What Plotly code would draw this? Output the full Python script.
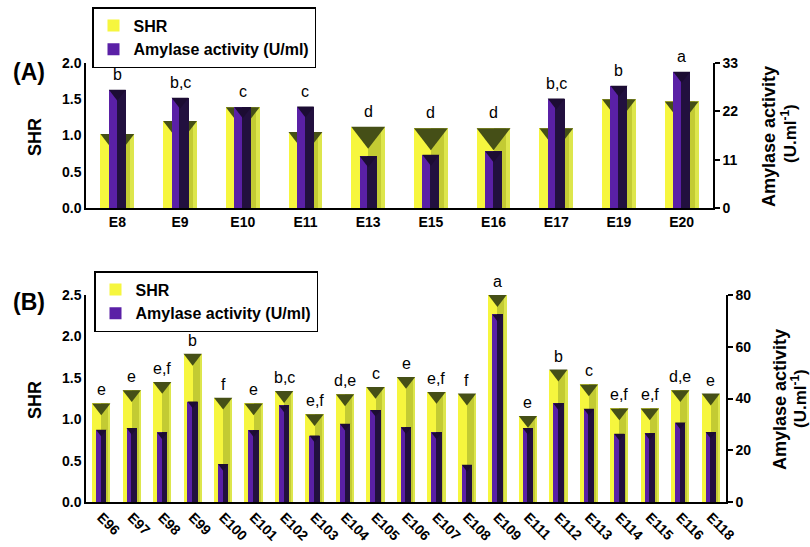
import plotly.graph_objects as go

# ---------------- data ----------------
cats_a = ["E8", "E9", "E10", "E11", "E13", "E15", "E16", "E17", "E19", "E20"]
shr_a = [1.02, 1.20, 1.39, 1.05, 1.12, 1.10, 1.10, 1.10, 1.50, 1.47]
amy_a = [26.9, 25.1, 22.9, 23.1, 11.8, 12.1, 12.9, 24.9, 27.8, 31.0]
letters_a = ["b", "b,c", "c", "c", "d", "d", "d", "b,c", "b", "a"]

cats_b = ["E96", "E97", "E98", "E99", "E100", "E101", "E102", "E103", "E104", "E105", "E106",
          "E107", "E108", "E109", "E111", "E112", "E113", "E114", "E115", "E116", "E118"]
shr_b = [1.19, 1.35, 1.45, 1.79, 1.26, 1.19, 1.34, 1.06, 1.30, 1.39, 1.51,
         1.33, 1.31, 2.50, 1.04, 1.60, 1.42, 1.13, 1.13, 1.35, 1.31]
amy_b = [27.9, 28.6, 26.9, 38.8, 14.7, 27.7, 37.3, 25.7, 30.2, 35.6, 28.9,
         26.9, 14.4, 72.5, 28.6, 38.2, 36.0, 26.4, 26.6, 30.7, 27.1]
letters_b = ["e", "e", "e,f", "b", "f", "e", "b,c", "e,f", "d,e", "c", "e",
             "e,f", "f", "a", "e", "b", "c", "e,f", "e,f", "d,e", "e"]

# ---------------- layout constants ----------------
W, H = 810, 547
FONT = "Arial, Liberation Sans, sans-serif"
dom_xa = [86 / W, 713 / W]
dom_xb = [86 / W, 726 / W]
dom_ya = [1 - 208 / H, 1 - 63 / H]
dom_yb = [1 - 502 / H, 1 - 295 / H]
rng_ya, rng_y2a = [0, 2.0], [0, 33]
rng_yb, rng_y2b = [0, 2.5], [0, 80]

YEL = "#F6F63E"
YEL_SH = "#C3CB33"
YEL_EDGE = "#DDE64C"
YEL_TRI = "#454F17"
PUR = "#5A20A6"
PUR_SH = "#22103F"
PUR_TRI = "#1C0C33"

fig = go.Figure()


def add_panel(cats, shr, amy, xa, ya, ya2, wy, wp, dom_x, dom_y, rng_y, rng_y2, legend, show):
    n = len(cats)
    xpx = (dom_x[1] - dom_x[0]) * W / n
    ppu_y = (dom_y[1] - dom_y[0]) * H / (rng_y[1] - rng_y[0])
    ppu_y2 = (dom_y[1] - dom_y[0]) * H / (rng_y2[1] - rng_y2[0])
    # SHR bars (left axis)
    fig.add_trace(go.Bar(x=cats, y=shr, width=wy, offset=-wy / 2, marker=dict(color=YEL, line=dict(width=0)),
                         name="SHR", xaxis=xa, yaxis=ya, legend=legend, showlegend=show))
    fig.add_trace(go.Bar(x=cats, y=shr, width=wy * 0.48, offset=0.0, marker=dict(color=YEL_SH, line=dict(width=0)),
                         xaxis=xa, yaxis=ya, showlegend=False, hoverinfo="skip"))
    fig.add_trace(go.Bar(x=cats, y=shr, width=wy * 0.12, offset=wy * 0.38, marker=dict(color=YEL_EDGE, line=dict(width=0)),
                         xaxis=xa, yaxis=ya, showlegend=False, hoverinfo="skip"))
    size_y = 2 * (wy * xpx) / 2.309
    fig.add_trace(go.Scatter(x=cats, y=[v - (size_y / 4) / ppu_y for v in shr], mode="markers",
                             marker=dict(symbol="triangle-down", size=size_y, color=YEL_TRI, line=dict(width=0)),
                             xaxis=xa, yaxis=ya, showlegend=False, hoverinfo="skip", cliponaxis=False))
    # Amylase bars (right axis)
    fig.add_trace(go.Bar(x=cats, y=amy, width=wp, offset=-wp / 2, marker=dict(color=PUR, line=dict(width=0)),
                         name="Amylase activity (U/ml)", xaxis=xa, yaxis=ya2, legend=legend, showlegend=show))
    fig.add_trace(go.Bar(x=cats, y=amy, width=wp * 0.55, offset=-wp / 2 + wp * 0.45,
                         marker=dict(color=PUR_SH, line=dict(width=0)),
                         xaxis=xa, yaxis=ya2, showlegend=False, hoverinfo="skip"))
    size_p = 2 * (wp * xpx) / 2.309
    fig.add_trace(go.Scatter(x=cats, y=[v - (size_p / 4) / ppu_y2 for v in amy], mode="markers",
                             marker=dict(symbol="triangle-down", size=size_p, color=PUR_TRI, line=dict(width=0)),
                             xaxis=xa, yaxis=ya2, showlegend=False, hoverinfo="skip", cliponaxis=False))


add_panel(cats_a, shr_a, amy_a, "x", "y", "y2", 0.54, 0.27, dom_xa, dom_ya, rng_ya, rng_y2a, "legend", True)
add_panel(cats_b, shr_b, amy_b, "x2", "y3", "y4", 0.60, 0.34, dom_xb, dom_yb, rng_yb, rng_y2b, "legend2", True)

# significance letters
annots = []
for c, s, a, t in zip(cats_a, shr_a, amy_a, letters_a):
    top = max(s / rng_ya[1], a / rng_y2a[1])
    annots.append(dict(x=c, y=top, xref="x", yref="y domain", text=t, showarrow=False,
                       yanchor="bottom", yshift=5, font=dict(family=FONT, size=16, color="black")))
for c, s, a, t in zip(cats_b, shr_b, amy_b, letters_b):
    top = max(s / rng_yb[1], a / rng_y2b[1])
    annots.append(dict(x=c, y=top, xref="x2", yref="y3 domain", text=t, showarrow=False,
                       yanchor="bottom", yshift=3, font=dict(family=FONT, size=16, color="black")))


def ptext(x, y, text, size=18, angle=0):
    return dict(x=x / W, y=1 - y / H, xref="paper", yref="paper", text=text, showarrow=False,
                textangle=angle, xanchor="center", yanchor="middle",
                font=dict(family=FONT, size=size, color="black", weight="bold"))


# panel labels and axis titles
annots += [
    ptext(29, 72, "(A)", 23), ptext(29, 302, "(B)", 23),
    ptext(35, 137, "SHR", 18, -90), ptext(35, 400, "SHR", 18, -90),
    ptext(769, 137, "Amylase activity", 18, -90), ptext(789, 134, "(U.ml<sup>-1</sup>)", 17, -90),
    ptext(780, 400, "Amylase activity", 18, -90), ptext(799, 399, "(U.ml<sup>-1</sup>)", 17, -90),
]

tickf = dict(family=FONT, size=14, color="black", weight="bold")
common_y = dict(showgrid=False, zeroline=False, showline=True, linecolor="black", linewidth=1.5,
                tickfont=tickf, ticks="", fixedrange=True, automargin=False)
common_y2 = dict(showgrid=False, zeroline=False, showline=True, linecolor="black", linewidth=1.5,
                 tickfont=tickf, ticks="outside", ticklen=5, tickwidth=1.5, tickcolor="black", side="right",
                 automargin=False)
common_x = dict(showgrid=False, zeroline=False, showline=True, linecolor="black", linewidth=1.5,
                tickfont=tickf, ticks="", type="category", automargin=False)
legf = dict(family=FONT, size=16, color="black", weight="bold")

fig.update_layout(
    width=W, height=H, margin=dict(l=0, r=0, t=0, b=0, autoexpand=False),
    paper_bgcolor="white", plot_bgcolor="rgba(0,0,0,0)",
    barmode="overlay", bargap=0,
    font=dict(family=FONT, color="black"),
    xaxis=dict(common_x, domain=dom_xa, anchor="y", range=[-0.5, len(cats_a) - 0.5]),
    yaxis=dict(common_y, domain=dom_ya, anchor="x", range=rng_ya, dtick=0.5, tickformat=".1f"),
    yaxis2=dict(common_y2, overlaying="y", anchor="x", range=rng_y2a, tickvals=[0, 11, 22, 33]),
    xaxis2=dict(common_x, domain=dom_xb, anchor="y3", range=[-0.5, len(cats_b) - 0.5], tickangle=45),
    yaxis3=dict(common_y, domain=dom_yb, anchor="x2", range=rng_yb, dtick=0.5, tickformat=".1f"),
    yaxis4=dict(common_y2, overlaying="y3", anchor="x2", range=rng_y2b, dtick=20),
    legend=dict(x=92 / W, y=1 - 7 / H, xanchor="left", yanchor="top", bgcolor="white",
                bordercolor="black", borderwidth=1.5, font=legf, traceorder="normal"),
    legend2=dict(x=94 / W, y=1 - 271 / H, xanchor="left", yanchor="top", bgcolor="white",
                 bordercolor="black", borderwidth=1.5, font=legf, traceorder="normal"),
    annotations=annots,
)

fig.write_html("out.html")
